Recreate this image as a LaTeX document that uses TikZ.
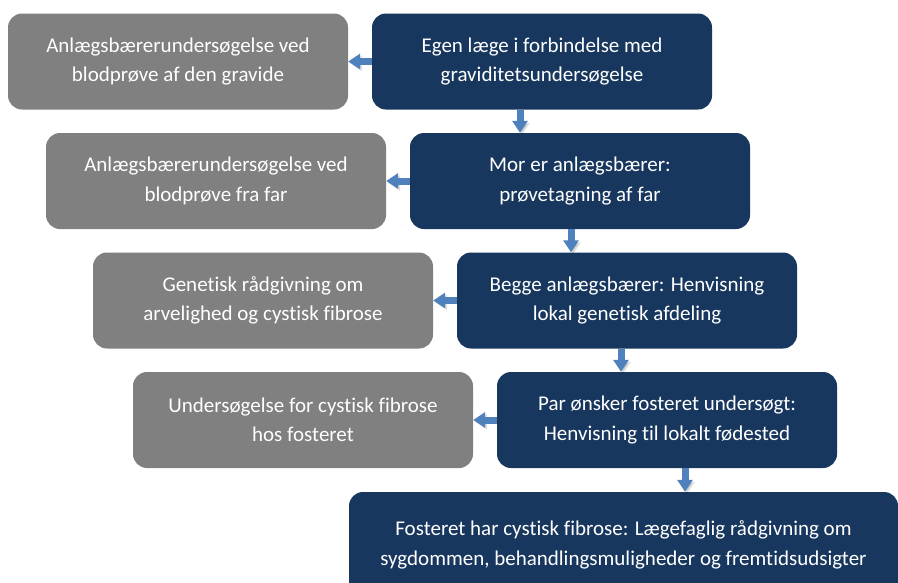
\documentclass[tikz,border=0pt]{standalone}
\usepackage{fontspec}
\setmainfont{Carlito}[Ligatures=NoCommon]
\usetikzlibrary{arrows.meta}

\definecolor{navy}{RGB}{24,55,94}
\definecolor{boxgray}{RGB}{128,128,128}
\definecolor{flowblue}{RGB}{79,129,189}

\tikzset{
    stepnavy/.style={fill=navy, rounded corners=14pt, text=white, align=center,
        minimum width=340pt, minimum height=96pt, font=\fontsize{21}{29.5}\selectfont},
    stepgray/.style={stepnavy, fill=boxgray},
    flow/.style={draw=flowblue, line width=7pt, -{Triangle[width=15pt, length=12pt]},
        preaction={draw=black, opacity=0.12, transform canvas={shift={(2pt,-2pt)}}}}
}

\begin{document}
\begin{tikzpicture}[x=1pt, y=-1pt]
    \useasboundingbox (0,0) rectangle (898,582);
    \clip (0,0) rectangle (898,582);

    % Main steps
    \node[stepnavy] (egenlaege) at (542,61.5) {Egen læge i forbindelse med\\graviditetsundersøgelse};
    \node[stepnavy] (morbaerer) at (580,181) {Mor er anlægsbærer:\\prøvetagning af far};
    \node[stepnavy] (begge) at (627,300.5) {Begge anlægsbærer: Henvisning\\lokal genetisk afdeling};
    \node[stepnavy] (par) at (667,420) {Par ønsker fosteret undersøgt:\\Henvisning til lokalt fødested};
    \node[stepnavy, minimum width=549pt, minimum height=106pt] (foster) at (623.5,545) {Fosteret har cystisk fibrose: Lægefaglig rådgivning om\\sygdommen, behandlingsmuligheder og fremtidsudsigter};

    % Side steps
    \node[stepgray] (blodgravid) at (178,61.5) {Anlægsbærerundersøgelse ved\\blodprøve af den gravide};
    \node[stepgray] (blodfar) at (216,181) {Anlægsbærerundersøgelse ved\\blodprøve fra far};
    \node[stepgray] (raadgivning) at (263,300.5) {Genetisk rådgivning om\\arvelighed og cystisk fibrose};
    \node[stepgray] (undersoeg) at (303,420) {Undersøgelse for cystisk fibrose\\hos fosteret};

    % Arrows down
    \draw[flow] ([xshift=-22pt]egenlaege.south) -- ([xshift=-60pt]morbaerer.north);
    \draw[flow] ([xshift=-9pt]morbaerer.south) -- ([xshift=-56pt]begge.north);
    \draw[flow] ([xshift=-6pt]begge.south) -- ([xshift=-46pt]par.north);
    \draw[flow] ([xshift=18pt]par.south) -- ([xshift=61.5pt]foster.north);

    % Arrows to the side
    \draw[flow] (egenlaege.west) -- (blodgravid.east);
    \draw[flow] (morbaerer.west) -- (blodfar.east);
    \draw[flow] (begge.west) -- (raadgivning.east);
    \draw[flow] (par.west) -- (undersoeg.east);
\end{tikzpicture}
\end{document}
